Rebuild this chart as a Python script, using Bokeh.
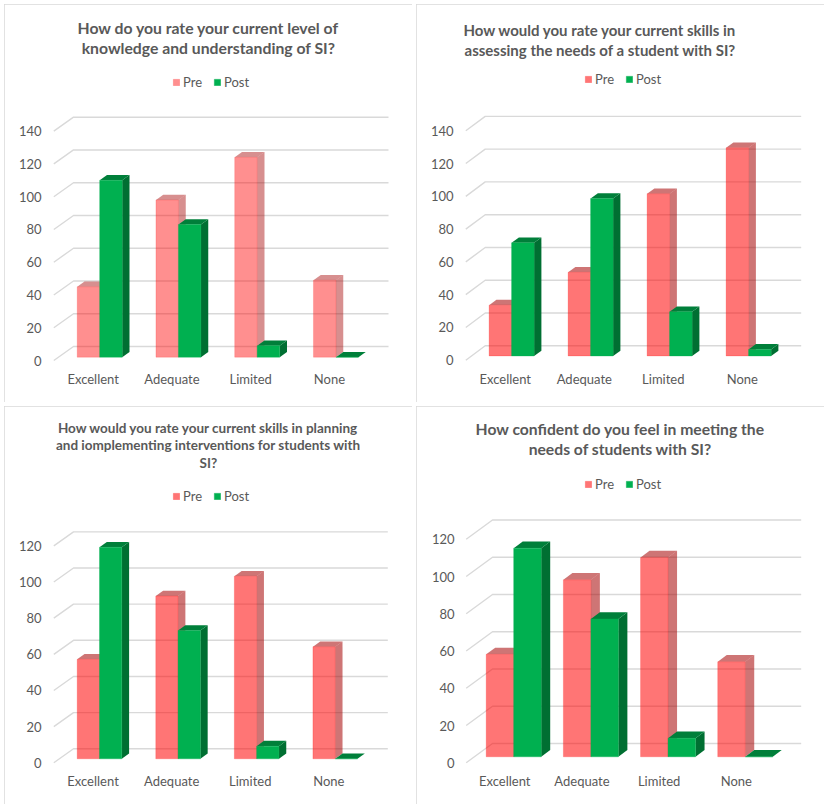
from bokeh.embed import file_html
from bokeh.resources import INLINE
from bokeh.layouts import column, row
from bokeh.models import FixedTicker, Label, Legend, LegendItem, LinearAxis, Range1d
from bokeh.plotting import figure

categories = ["Excellent", "Adequate", "Limited", "None"]
series_names = ["Pre", "Post"]

titles = [
    ["How do you rate your current level of", "knowledge and understanding of SI?"],
    ["How would you rate your current skills in", "assessing the needs of a student with SI?"],
    ["How would you rate your current skills in planning", "and iomplementing interventions for students with", "SI?"],
    ["How confident do you feel in meeting the", "needs of students with SI?"],
]
pre_1 = [43, 96, 122, 47]
post_1 = [108, 81, 7, 0]
pre_2 = [31, 51, 99, 127]
post_2 = [69, 96, 27, 4]
pre_3 = [55, 90, 101, 62]
post_3 = [117, 71, 7, 0]
pre_4 = [55, 95, 107, 51]
post_4 = [112, 74, 10, 0]
y_max = [140, 140, 120, 120]

W, H = 408, 398
GREEN, GREEN_SIDE, GREEN_TOP = "#00B050", "#006F32", "#007F3A"
RED_SIDE = "#A50000"
TEXT = "#595959"
GRID = "#D9D9D9"
FONT = "Lato"

panels = [
    dict(l=49.3, r=384, t=113.3, b=356, v=1.638, dx=19.7, dy=14, bl=23.4, bw=22.5, bdx=7.3, bdy=5.3, lift=3.3,
         a=0.44, ts=15.75, tx=204, ty=[22.7, 42.7], lc=78),
    dict(l=49.3, r=384.7, t=112.7, b=357.7, v=1.648, dx=19.4, dy=14.5, bl=23.3, bw=22.5, bdx=7.3, bdy=5.3, lift=4.3,
         a=0.54, ts=15, tx=183.7, ty=[26, 46], lc=77),
    dict(l=49.3, r=383.3, t=125.3, b=356.3, v=1.808, dx=19.7, dy=14, bl=23.4, bw=22.3, bdx=7.3, bdy=5.3, lift=4,
         a=0.54, ts=13.5, tx=203.8, ty=[21.3, 38.3, 56.3], lc=90),
    dict(l=49.7, r=384.7, t=113.3, b=356.3, v=1.863, dx=26.3, dy=19.3, bl=20, bw=27.5, bdx=9, bdy=6.7, lift=6,
         a=0.54, ts=15.7, tx=203.7, ty=[22.7, 42.7], lc=78),
]
series = [(pre_1, post_1), (pre_2, post_2), (pre_3, post_3), (pre_4, post_4)]
PAD = 2
FRAME_TOP = 2


def make_panel(i):
    g = panels[i]
    pre, post = series[i]
    v = g["v"]
    cat = (g["r"] - g["l"] - g["dx"]) / len(categories)
    fl, fr, fb = round(g["l"] - PAD), round(g["r"] + PAD), round(g["b"] + PAD)
    p = figure(
        width=W, height=H, output_backend="svg", toolbar_location=None,
        x_axis_type=None, y_axis_type=None,
        x_range=Range1d((fl - g["l"]) / cat, (fr - g["l"]) / cat),
        y_range=Range1d((g["b"] - fb) / v, (g["b"] - FRAME_TOP) / v),
        min_border_left=fl, min_border_right=W - fr, min_border_top=FRAME_TOP, min_border_bottom=H - fb,
        outline_line_color=None, background_fill_color="white", border_fill_color="white",
        styles={"outline": "1px solid " + GRID, "outline-offset": "-1px"},
    )
    p.grid.visible = False
    for line, yc in zip(titles[i], g["ty"]):
        p.add_layout(Label(
            x=(g["tx"] - g["l"]) / cat, y=(g["b"] - yc) / v, text=line, text_align="center", text_baseline="middle",
            text_color=TEXT, text_font=FONT, text_font_style="bold", text_font_size=f"{g['ts']}px",
        ))

    ticks = list(range(0, y_max[i] + 1, 20))
    cat_ticks = [k + 0.5 for k in range(len(categories))]
    yaxis = LinearAxis(
        ticker=FixedTicker(ticks=ticks), axis_line_color=None, major_tick_line_color=None, minor_tick_line_color=None,
        major_tick_out=0, major_tick_in=0,
        major_label_text_color=TEXT, major_label_text_font=FONT, major_label_text_font_size="13px",
        major_label_standoff=10,
    )
    xaxis = LinearAxis(
        ticker=FixedTicker(ticks=cat_ticks), axis_line_color=None, major_tick_line_color=None, minor_tick_line_color=None,
        major_tick_out=0, major_tick_in=0,
        major_label_text_color=TEXT, major_label_text_font=FONT, major_label_text_font_size="13px",
        major_label_standoff=8,
        major_label_overrides={t: c for t, c in zip(cat_ticks, categories)},
    )
    p.add_layout(yaxis, "left")
    p.add_layout(xaxis, "below")

    ddx, ddy = g["dx"] / cat, g["dy"] / v
    xend = (g["r"] - g["l"]) / cat
    p.multi_line(
        xs=[[0, ddx, xend] for _ in ticks], ys=[[t, t + ddy, t + ddy] for t in ticks],
        line_color=GRID, line_width=1.4,
    )

    bw, bdx, bdy = g["bw"] / cat, g["bdx"] / cat, g["bdy"] / v
    base = g["lift"] / v
    bl = g["bl"] / cat

    def bars(vals, offset, front, front_alpha, side, top, side_alpha):
        x0 = [k + bl + offset * bw for k in range(len(vals))]
        xr = [a + bw for a in x0]
        tops = [base + w for w in vals]
        p.patches(
            xs=[[b, b + bdx, b + bdx, b] for b in xr],
            ys=[[base, base + bdy, t + bdy, t] for t in tops],
            fill_color=side, fill_alpha=side_alpha, line_color=None,
        )
        p.patches(
            xs=[[a, a + bdx, b + bdx, b] for a, b in zip(x0, xr)],
            ys=[[t, t + bdy, t + bdy, t] for t in tops],
            fill_color=top, fill_alpha=side_alpha, line_color=None,
        )
        return p.quad(left=x0, right=xr, bottom=[base] * len(vals), top=tops,
                      fill_color=front, fill_alpha=front_alpha, line_color=front, line_alpha=front_alpha * 0.35, line_width=1)

    r_pre = bars(pre, 0, "#FF0000", g["a"], RED_SIDE, RED_SIDE, g["a"])
    r_post = bars(post, 1, GREEN, 1.0, GREEN_SIDE, GREEN_TOP, 1.0)

    legend = Legend(
        items=[LegendItem(label=series_names[0], renderers=[r_pre]), LegendItem(label=series_names[1], renderers=[r_post])],
        orientation="horizontal", location=(168 - fl, fb - (g["lc"] + 8)), glyph_width=8, glyph_height=8,
        label_standoff=3, spacing=10, padding=0, margin=0, border_line_color=None, background_fill_alpha=0,
        label_text_color=TEXT, label_text_font=FONT, label_text_font_size="13px",
    )
    p.add_layout(legend, "center")
    return p


plots = [make_panel(i) for i in range(4)]
layout = column(
    row(plots[0], plots[1], spacing=4),
    row(plots[2], plots[3], spacing=4),
    spacing=4, margin=(4, 4, 4, 4),
)
open("out.html", "w").write(file_html(layout, INLINE))
